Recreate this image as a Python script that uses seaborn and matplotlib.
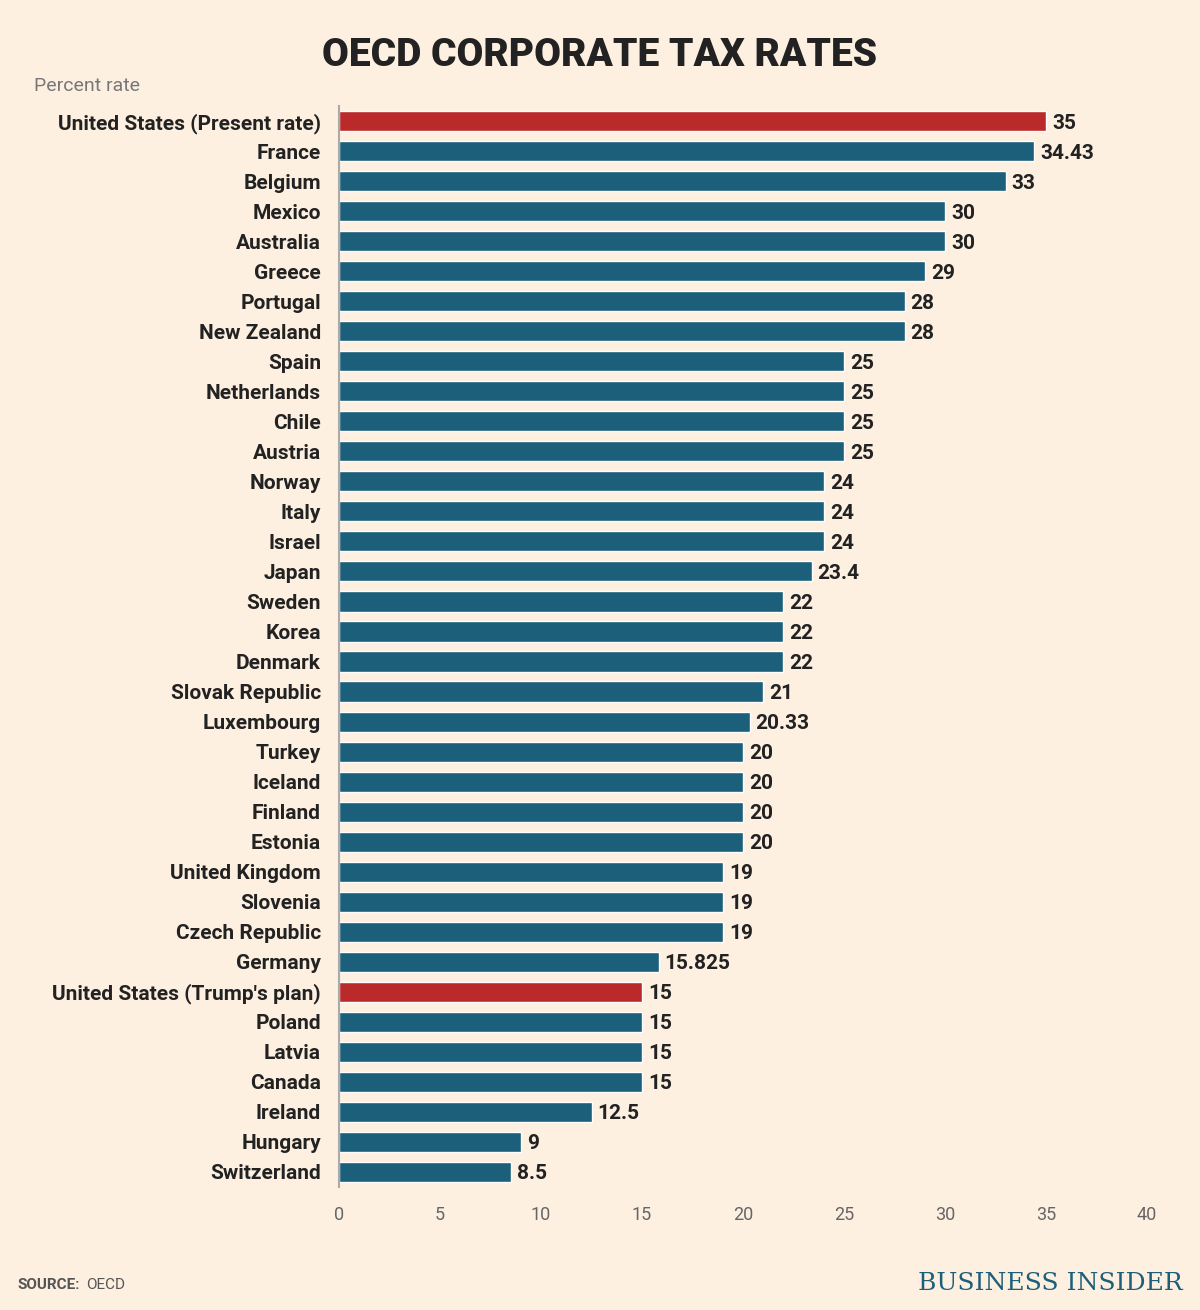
import matplotlib
matplotlib.use('Agg')
import matplotlib.pyplot as plt
import seaborn as sns
import pandas as pd

countries = ["United States (Present rate)", "France", "Belgium", "Mexico", "Australia",
             "Greece", "Portugal", "New Zealand", "Spain", "Netherlands", "Chile", "Austria",
             "Norway", "Italy", "Israel", "Japan", "Sweden", "Korea", "Denmark",
             "Slovak Republic", "Luxembourg", "Turkey", "Iceland", "Finland", "Estonia",
             "United Kingdom", "Slovenia", "Czech Republic", "Germany",
             "United States (Trump's plan)", "Poland", "Latvia", "Canada", "Ireland",
             "Hungary", "Switzerland"]
rates = [35, 34.43, 33, 30, 30, 29, 28, 28, 25, 25, 25, 25, 24, 24, 24, 23.4, 22, 22, 22,
         21, 20.33, 20, 20, 20, 20, 19, 19, 19, 15.825, 15, 15, 15, 15, 12.5, 9, 8.5]
labels = ["35", "34.43", "33", "30", "30", "29", "28", "28", "25", "25", "25", "25", "24",
          "24", "24", "23.4", "22", "22", "22", "21", "20.33", "20", "20", "20", "20", "19",
          "19", "19", "15.825", "15", "15", "15", "15", "12.5", "9", "8.5"]

bg = "#fdf0e1"
teal = "#1b5f7a"
red = "#bb2a2a"

df = pd.DataFrame({"country": countries, "rate": rates})
palette = {c: (red if c.startswith("United States") else teal) for c in countries}

sns.set_theme(style="white")
plt.rcParams['font.family'] = ['Roboto', 'DejaVu Sans']

fig = plt.figure(figsize=(12, 13.1), dpi=100, facecolor=bg)
ax = fig.add_axes([339 / 1200, 1 - 1187 / 1310, (1147 - 339) / 1200, (1187 - 106) / 1310])
ax.set_facecolor(bg)
sns.barplot(data=df, y="country", x="rate", hue="country", palette=palette,
            order=countries, width=0.67, legend=False, ax=ax, saturation=1)

for i, (v, t) in enumerate(zip(rates, labels)):
    ax.text(v + 0.3, i, t, va="center_baseline", ha="left", fontsize=15,
            fontweight="bold", color="#222222")

ax.set_xlim(0, 40)
ax.set_ylim(len(countries) - 0.5, -0.5)
ax.set_xticks(range(0, 41, 5))
ax.set_xlabel("")
ax.set_ylabel("")
ax.tick_params(axis="x", labelsize=13, labelcolor="#666666", length=0, pad=14)
ax.tick_params(axis="y", labelsize=15, length=0, pad=13)
for lab in ax.get_yticklabels():
    lab.set_fontweight("bold")
    lab.set_color("#222222")
for s in ["top", "right", "bottom"]:
    ax.spines[s].set_visible(False)
ax.spines["left"].set_color("#aaaaaa")
ax.spines["left"].set_linewidth(1.5)

fig.text(0.5, 1 - 55 / 1310, "OECD CORPORATE TAX RATES", ha="center", va="center",
         fontsize=28, fontweight="heavy", color="#222222")
fig.text(34 / 1200, 1 - 86 / 1310, "Percent rate", ha="left", va="center",
         fontsize=14, color="#777777")
fig.text(18 / 1200, 1 - 1285 / 1310, "SOURCE:", ha="left", va="center",
         fontsize=11, fontweight="bold", color="#555555")
fig.text(86 / 1200, 1 - 1285 / 1310, "OECD", ha="left", va="center",
         fontsize=11, color="#555555")
fig.text(1183 / 1200, 1 - 1284 / 1310, "BUSINESS INSIDER", ha="right", va="center",
         fontsize=18, fontfamily="DejaVu Serif", color="#1b5f7a")

fig.savefig("out.png", dpi=100, facecolor=bg)
